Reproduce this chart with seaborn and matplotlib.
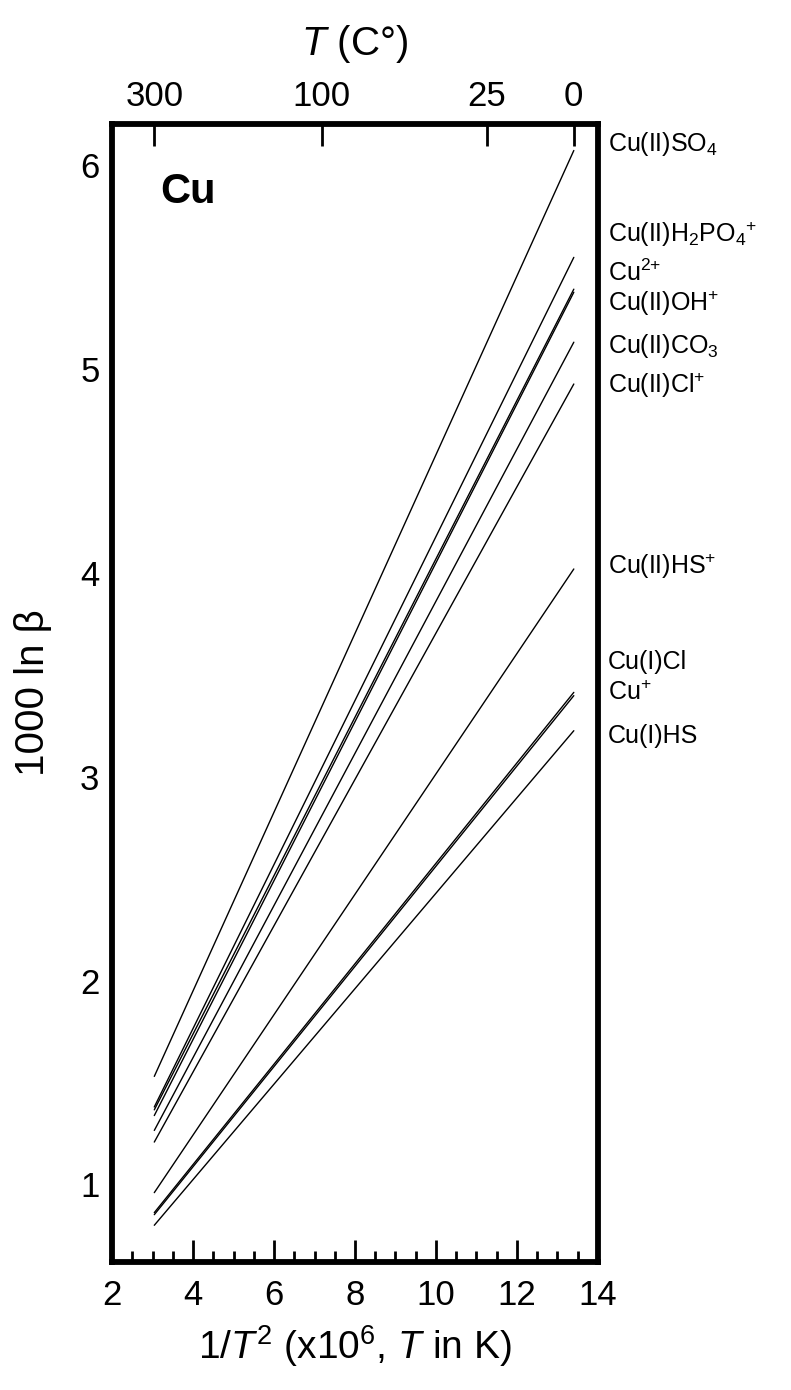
import numpy as np
import pandas as pd
import matplotlib
matplotlib.use("Agg")
import matplotlib.pyplot as plt
import seaborn as sns
from matplotlib.ticker import MultipleLocator

# species, value of 1000 ln beta at 300 C and at 0 C (straight in 1/T^2)
species = ["Cu(II)SO4", "Cu(II)H2PO4+", "Cu2+", "Cu(II)OH+", "Cu(II)CO3",
           "Cu(II)Cl+", "Cu(II)HS+", "Cu(I)Cl", "Cu+", "Cu(I)HS"]
labels = ["Cu(II)SO$_4$", "Cu(II)H$_2$PO$_4{}^{{+}}$", "Cu$^{2{+}}$",
          "Cu(II)OH$^{{+}}$", "Cu(II)CO$_3$", "Cu(II)Cl$^{{+}}$",
          "Cu(II)HS$^{{+}}$", "Cu(I)Cl", "Cu$^{{+}}$", "Cu(I)HS"]
lnb_300C = [1.53, 1.38, 1.366, 1.338, 1.265, 1.208, 0.96, 0.862, 0.852, 0.80]
lnb_0C = [6.07, 5.546, 5.39, 5.375, 5.13, 4.925, 4.018, 3.413, 3.397, 3.225]
label_y = [6.10, 5.66, 5.47, 5.32, 5.11, 4.92, 4.03, 3.56, 3.41, 3.20]
end_temps_C = [300, 0]
top_ticks_C = [300, 100, 25, 0]


def inv_t2(tc):
    return 1e6 / (np.asarray(tc, dtype=float) + 273.15) ** 2


rows = []
for sp, a, b in zip(species, lnb_300C, lnb_0C):
    for tc, v in zip(end_temps_C, [a, b]):
        rows.append({"species": sp, "x": float(inv_t2(tc)), "y": v})
df = pd.DataFrame(rows)

sns.set_style("white")
plt.rcParams["font.family"] = ["Liberation Sans", "DejaVu Sans"]
plt.rcParams["mathtext.fontset"] = "custom"
plt.rcParams["mathtext.rm"] = "Liberation Sans"
plt.rcParams["mathtext.it"] = "Liberation Sans:italic"
plt.rcParams["mathtext.bf"] = "Liberation Sans:bold"
plt.rcParams["text.color"] = "black"
plt.rcParams["axes.labelcolor"] = "black"
plt.rcParams["xtick.color"] = "black"
plt.rcParams["ytick.color"] = "black"

fig = plt.figure(figsize=(7.91, 13.90), dpi=100)
ax = fig.add_axes([0.1416, 0.0921, 0.6144, 0.8187])

sns.lineplot(data=df, x="x", y="y", units="species", estimator=None,
             color="black", lw=1.0, ax=ax, legend=False)

ax.set_xlim(2, 14)
ax.set_ylim(0.62, 6.2)
ax.xaxis.set_major_locator(MultipleLocator(2))
ax.xaxis.set_minor_locator(MultipleLocator(0.5))
ax.yaxis.set_major_locator(MultipleLocator(1))
ax.yaxis.set_minor_locator(MultipleLocator(0.2))
ax.tick_params(which="both", direction="in", top=False, right=False,
               width=2, labelsize=25, color="black", labelcolor="black")
ax.tick_params(which="major", length=16)
ax.tick_params(which="minor", length=8)
ax.tick_params(axis="x", pad=12)
ax.tick_params(axis="y", pad=9)
for s in ax.spines.values():
    s.set_linewidth(4.2)
    s.set_color("black")

ax.set_xlabel("1/$T^2$ (x10$^6$, $T$ in K)", fontsize=28, labelpad=8)
ax.set_ylabel("1000 ln \u03b2", fontsize=29, labelpad=20)

# top temperature axis
ax2 = ax.twiny()
ax2.set_xlim(ax.get_xlim())
ax2.set_xticks(inv_t2(top_ticks_C))
ax2.set_xticklabels([str(t) for t in top_ticks_C])
ax2.tick_params(direction="in", length=16, width=2, labelsize=25, pad=8,
                color="black", labelcolor="black")
for s in ax2.spines.values():
    s.set_visible(False)
ax2.set_xlabel("$T$ (C\u00b0)", fontsize=29, labelpad=18)

# right-hand species labels
ytr = ax.get_yaxis_transform()
for lab, yy in zip(labels, label_y):
    ax.text(1.02, yy, lab, transform=ytr, ha="left", va="center",
            fontsize=18, color="black")

ax.text(0.10, 0.94, "Cu", transform=ax.transAxes, ha="left", va="center",
        fontsize=30, fontweight="bold", color="black")

fig.savefig("out.png", dpi=100)
